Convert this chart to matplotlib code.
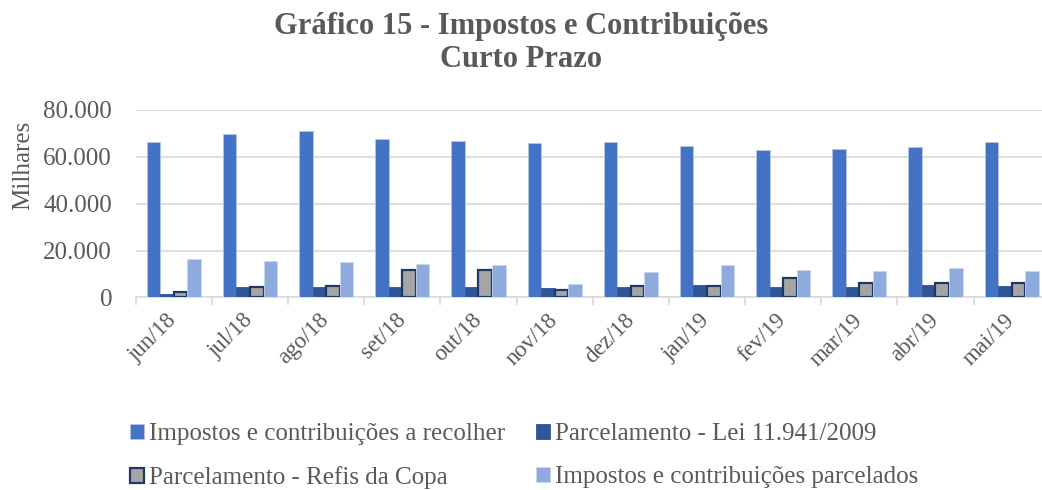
import numpy as np
import matplotlib.pyplot as plt
from matplotlib.ticker import FuncFormatter, FixedLocator

meses = ['jun/18', 'jul/18', 'ago/18', 'set/18', 'out/18', 'nov/18',
         'dez/18', 'jan/19', 'fev/19', 'mar/19', 'abr/19', 'mai/19']
a_recolher = [66500, 69600, 70900, 67500, 66600, 65800,
              66500, 64500, 62800, 63200, 64100, 66500]
lei_11941 = [1400, 4600, 4600, 4600, 4600, 4100,
             4600, 5400, 4600, 4600, 5300, 4700]
refis_copa = [2400, 4600, 4700, 11700, 11700, 3000,
              5000, 4800, 8400, 6000, 6000, 6300]
parcelados = [16400, 15700, 15100, 14200, 13700, 5600,
              11000, 13800, 11700, 11500, 12500, 11200]

series = [
    ('Impostos e contribuições a recolher', a_recolher, '#4472C4', '#B4C7E7', 0.6),
    ('Parcelamento - Lei 11.941/2009', lei_11941, '#2F5597', '#2F5597', 0.6),
    ('Parcelamento - Refis da Copa', refis_copa, '#A5A5A5', '#1F3864', 1.6),
    ('Impostos e contribuições parcelados', parcelados, '#8FAADC', '#C9D6EE', 0.6),
]

plt.rcParams['font.family'] = ['Liberation Serif', 'DejaVu Serif']
cinza = '#595959'

fig = plt.figure(figsize=(10.42, 4.90), dpi=100)
ax = fig.add_axes([135.7 / 1042, 1 - 297.5 / 490, 914 / 1042, 187.5 / 490])

x = np.arange(len(meses))
larg = 0.178
barras = []
for i, (nome, vals, cor, borda, lw) in enumerate(series):
    b = ax.bar(x + (i - 1.5) * larg, vals, larg, color=cor, edgecolor=borda,
               linewidth=lw, label=nome, zorder=3)
    barras.append(b)

ax.set_xlim(-0.5, len(meses) - 0.5)
ax.set_ylim(0, 80000)
ax.set_yticks(np.arange(0, 80001, 20000))
ax.yaxis.set_major_formatter(FuncFormatter(lambda v, p: f'{v:,.0f}'.replace(',', '.')))
ax.grid(axis='y', color='#D9D9D9', linewidth=1.2, zorder=0)
ax.set_xticks(x)
ax.set_xticklabels(meses, rotation=45, ha='right', va='center', rotation_mode='anchor')
ax.xaxis.set_minor_locator(FixedLocator(np.arange(-0.5, len(meses), 1)))
ax.tick_params(axis='x', which='major', length=0, pad=14, labelsize=16.5, labelcolor=cinza)
ax.tick_params(axis='x', which='minor', length=6, color='#D9D9D9', width=1.2)
ax.tick_params(axis='y', length=0, labelsize=18, labelcolor=cinza, pad=17)
for s in ['top', 'right', 'left']:
    ax.spines[s].set_visible(False)
ax.spines['bottom'].set_color('#D9D9D9')
ax.spines['bottom'].set_linewidth(1.2)

fig.text(23 / 1042, 1 - 165 / 490, 'Milhares', rotation=90, ha='center', va='center',
         fontsize=18, color=cinza)
fig.text(0.5, 1 - 43 / 490, 'Gráfico 15 - Impostos e Contribuições\nCurto Prazo',
         ha='center', va='center', fontsize=22, fontweight='bold', color=cinza,
         linespacing=1.15)

ordem = [0, 2, 1, 3]
fig.legend([barras[k] for k in ordem], [series[k][0] for k in ordem],
           loc='center left', bbox_to_anchor=(130 / 1042, 1 - 456 / 490), ncol=2,
           frameon=False, fontsize=18, labelcolor=cinza, handlelength=0.55,
           handleheight=0.55, handletextpad=0.2, columnspacing=1.25,
           labelspacing=0.85, borderpad=0, borderaxespad=0)

fig.savefig('out.png', dpi=100)
